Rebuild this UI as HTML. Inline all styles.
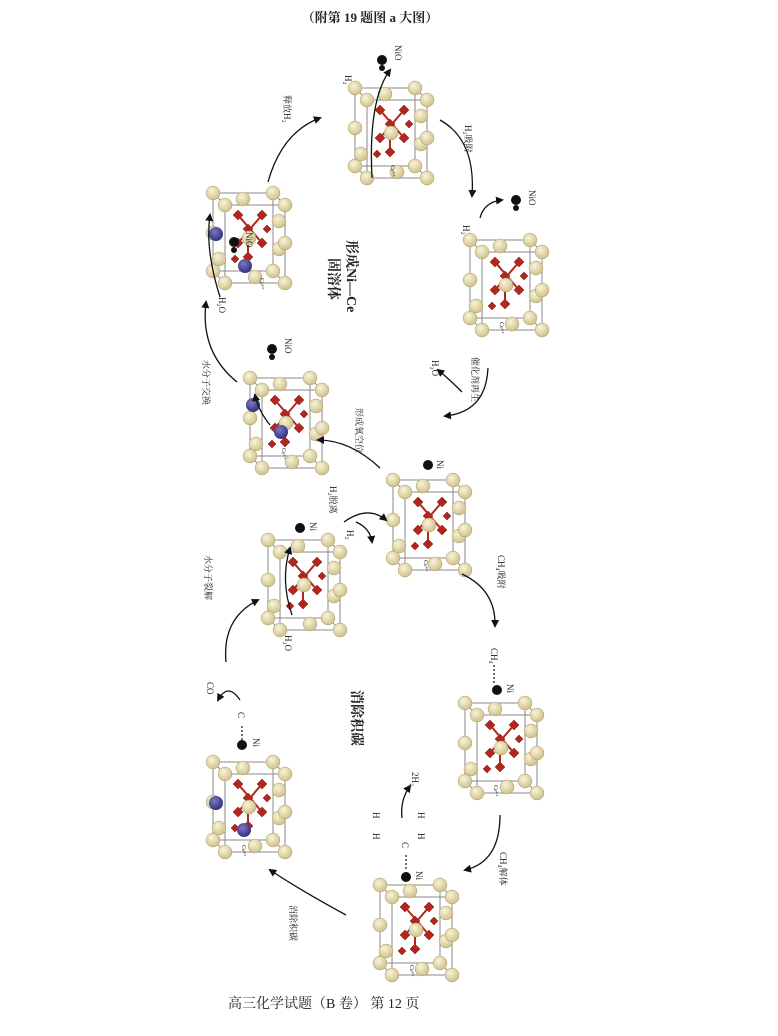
<!DOCTYPE html>
<html><head><meta charset="utf-8"><style>
html,body{margin:0;padding:0;background:#fff;}
svg{display:block;}
text{font-family:"Liberation Serif","Noto Serif CJK SC",serif;fill:#222;}
</style></head><body>
<svg width="778" height="1036" viewBox="0 0 778 1036" xmlns="http://www.w3.org/2000/svg">
<defs>
<radialGradient id="sp" cx="0.4" cy="0.35" r="0.7"><stop offset="0" stop-color="#faf4d8"/><stop offset="1" stop-color="#cbbd86"/></radialGradient>
<radialGradient id="bl" cx="0.4" cy="0.35" r="0.7"><stop offset="0" stop-color="#7a78c0"/><stop offset="1" stop-color="#2e2c7a"/></radialGradient>
<marker id="ah" markerWidth="8" markerHeight="8" refX="6" refY="4" orient="auto" markerUnits="userSpaceOnUse"><path d="M0,0 L8,4 L0,8 Z" fill="#111"/></marker>
<g id="cube">
 <g stroke="#888" stroke-width="1" fill="none">
  <rect x="0" y="0" width="60" height="78"/>
  <rect x="12" y="12" width="60" height="78"/>
  <line x1="0" y1="0" x2="12" y2="12"/><line x1="60" y1="0" x2="72" y2="12"/>
  <line x1="0" y1="78" x2="12" y2="90"/><line x1="60" y1="78" x2="72" y2="90"/>
 </g>
 <g fill="#b3261e" stroke="#7a1510" stroke-width="0.5">
  <path d="M20,22 l5,-5 l5,5 l-5,5z"/><path d="M44,22 l5,-5 l5,5 l-5,5z"/>
  <path d="M20,50 l5,-5 l5,5 l-5,5z"/><path d="M44,50 l5,-5 l5,5 l-5,5z"/>
  <path d="M30,36 l5,-5 l5,5 l-5,5z"/><path d="M30,64 l5,-5 l5,5 l-5,5z"/>
  <path d="M50,36 l4,-4 l4,4 l-4,4z"/><path d="M18,66 l4,-4 l4,4 l-4,4z"/>
 </g>
 <g stroke="#b3261e" stroke-width="2">
  <line x1="25" y1="22" x2="49" y2="50"/><line x1="49" y1="22" x2="25" y2="50"/>
  <line x1="35" y1="36" x2="35" y2="64"/>
 </g>
 <g fill="url(#sp)" stroke="#a99c66" stroke-width="0.5">
  <circle cx="0" cy="0" r="7"/><circle cx="60" cy="0" r="7"/>
  <circle cx="30" cy="6" r="7"/><circle cx="0" cy="40" r="7"/>
  <circle cx="66" cy="28" r="7"/><circle cx="36" cy="45" r="7"/>
  <circle cx="0" cy="78" r="7"/><circle cx="60" cy="78" r="7"/>
  <circle cx="66" cy="56" r="7"/><circle cx="6" cy="66" r="7"/>
  <circle cx="12" cy="12" r="7"/><circle cx="72" cy="12" r="7"/>
  <circle cx="42" cy="84" r="7"/><circle cx="72" cy="50" r="7"/>
  <circle cx="12" cy="90" r="7"/><circle cx="72" cy="90" r="7"/>
 </g>
</g>
</defs>

<text x="370" y="22" font-size="13" font-weight="bold" text-anchor="middle">（附第 19 题图 a 大图）</text>

<!-- cubes -->
<use href="#cube" x="355" y="88"/>
<use href="#cube" x="213" y="193"/>
<circle cx="216" cy="234" r="7" fill="url(#bl)"/><circle cx="245" cy="266" r="7" fill="url(#bl)"/>
<use href="#cube" x="470" y="240"/>
<use href="#cube" x="250" y="378"/>
<circle cx="253" cy="405" r="7" fill="url(#bl)"/><circle cx="281" cy="432" r="7" fill="url(#bl)"/>
<use href="#cube" x="393" y="480"/>
<use href="#cube" x="268" y="540"/>
<use href="#cube" x="465" y="703"/>
<use href="#cube" x="213" y="762"/>
<circle cx="216" cy="803" r="7" fill="url(#bl)"/><circle cx="244" cy="830" r="7" fill="url(#bl)"/>
<use href="#cube" x="380" y="885"/>

<!-- Ni / NiO dots -->
<g fill="#111">
<circle cx="382" cy="60" r="5"/><circle cx="382" cy="68" r="3"/>
<circle cx="516" cy="200" r="5"/><circle cx="516" cy="208" r="3"/>
<circle cx="234" cy="242" r="5"/><circle cx="234" cy="250" r="3"/>
<circle cx="272" cy="349" r="5"/><circle cx="272" cy="357" r="3"/>
<circle cx="428" cy="465" r="5"/>
<circle cx="300" cy="528" r="5"/>
<circle cx="497" cy="690" r="5"/>
<circle cx="242" cy="745" r="5"/>
<circle cx="406" cy="877" r="5"/>
</g>

<!-- arrows -->
<g stroke="#111" stroke-width="1.3" fill="none" marker-end="url(#ah)">
<path d="M268,182 Q282,132 320,118"/>
<path d="M440,120 Q476,140 472,196"/>
<path d="M488,368 Q486,412 445,416"/>
<path d="M380,468 Q350,440 318,440"/>
<path d="M237,382 Q200,352 206,302"/>
<path d="M344,522 Q368,505 386,520"/>
<path d="M462,574 Q496,590 495,626"/>
<path d="M500,815 Q500,862 465,870"/>
<path d="M346,915 Q300,890 270,870"/>
<path d="M226,662 Q222,618 258,600"/>
<path d="M372,178 Q368,100 390,70"/>
<path d="M480,218 Q484,202 502,200"/>
<path d="M462,392 Q448,378 438,370"/>
<path d="M356,522 Q370,528 372,542"/>
<path d="M240,700 Q228,682 218,700"/>
<path d="M402,818 Q400,800 410,786"/>
<path d="M292,615 Q280,580 290,548"/>
<path d="M220,297 Q205,250 210,215"/>
<path d="M270,425 Q258,410 255,395"/>
</g>
<g stroke="#111" stroke-width="1.2" stroke-dasharray="2,2">
<line x1="494" y1="665" x2="494" y2="684"/>
<line x1="242" y1="726" x2="242" y2="740"/>
<line x1="406" y1="855" x2="406" y2="871"/>
</g>

<!-- rotated labels -->
<g font-size="9">
<text transform="translate(284,95) rotate(90)">释放H₂</text>
<text transform="translate(465,125) rotate(90)">H₂吸附</text>
<text transform="translate(472,357) rotate(90)">催化剂再生</text>
<text transform="translate(356,408) rotate(90)">形成氧空位</text>
<text transform="translate(203,360) rotate(90)">水分子交换</text>
<text transform="translate(330,486) rotate(90)">H₂脱离</text>
<text transform="translate(205,555) rotate(90)">水分子裂解</text>
<text transform="translate(498,555) rotate(90)">CH₄吸附</text>
<text transform="translate(500,852) rotate(90)">CH₄解体</text>
<text transform="translate(290,905) rotate(90)">消除积碳</text>
<text transform="translate(395,45) rotate(90)">NiO</text>
<text transform="translate(529,190) rotate(90)">NiO</text>
<text transform="translate(246,232) rotate(90)">NiO</text>
<text transform="translate(285,338) rotate(90)">NiO</text>
<text transform="translate(437,460) rotate(90)">Ni</text>
<text transform="translate(310,522) rotate(90)">Ni</text>
<text transform="translate(507,684) rotate(90)">Ni</text>
<text transform="translate(253,738) rotate(90)">Ni</text>
<text transform="translate(416,871) rotate(90)">Ni</text>
<text transform="translate(345,75) rotate(90)">H₂</text>
<text transform="translate(463,225) rotate(90)">H₂</text>
<text transform="translate(432,360) rotate(90)">H₂O</text>
<text transform="translate(219,297) rotate(90)">H₂O</text>
<text transform="translate(347,530) rotate(90)">H₂</text>
<text transform="translate(285,635) rotate(90)">H₂O</text>
<text transform="translate(207,682) rotate(90)">CO</text>
<text transform="translate(238,712) rotate(90)">C</text>
<text transform="translate(491,648) rotate(90)">CH₄</text>
<text transform="translate(402,842) rotate(90)">C</text>
<text transform="translate(412,772) rotate(90)">2H₂</text>
<text transform="translate(373,812) rotate(90)">H</text>
<text transform="translate(373,833) rotate(90)">H</text>
<text transform="translate(418,812) rotate(90)">H</text>
<text transform="translate(418,833) rotate(90)">H</text>
</g>
<g font-size="6" fill="#555">
<text transform="translate(391,165) rotate(90)">Ce⁴⁺</text>
<text transform="translate(260,278) rotate(90)">Ce³⁺</text>
<text transform="translate(500,322) rotate(90)">Ce⁴⁺</text>
<text transform="translate(282,448) rotate(90)">Ce³⁺</text>
<text transform="translate(424,560) rotate(90)">Ce⁴⁺</text>
<text transform="translate(494,785) rotate(90)">Ce⁴⁺</text>
<text transform="translate(242,845) rotate(90)">Ce³⁺</text>
<text transform="translate(410,965) rotate(90)">Ce⁴⁺</text>
</g>
<g font-size="14" font-weight="bold">
<text transform="translate(347,240) rotate(90)">形成Ni—Ce</text>
<text transform="translate(329,258) rotate(90)">固溶体</text>
<text transform="translate(352,690) rotate(90)">消除积碳</text>
</g>

<text x="228" y="1008" font-size="14">高三化学试题（B 卷）  第 12 页</text>
</svg>
</body></html>
